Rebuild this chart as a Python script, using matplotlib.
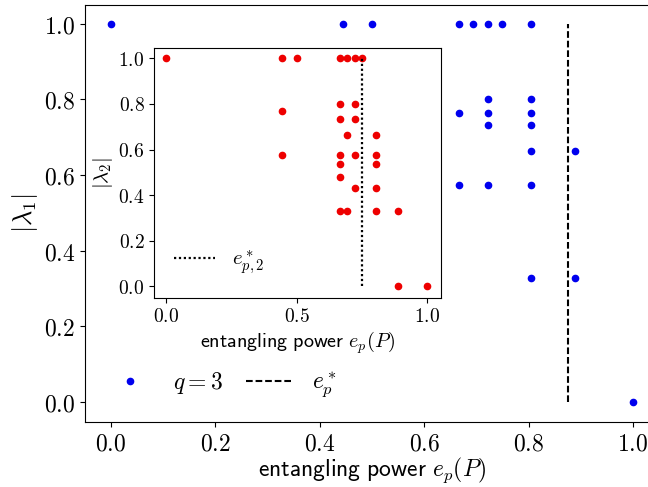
import matplotlib
matplotlib.use('Agg')
from matplotlib import pyplot as plt
from matplotlib.ticker import FormatStrFormatter, MultipleLocator

plt.rcParams['mathtext.fontset'] = 'cm'
plt.rcParams['font.family'] = ['DejaVu Sans']

# main panel: q = 3, |lambda_1| against entangling power
ep_main = [0.0, 4/9, 0.5, 2/3, 2/3, 2/3, 25/36, 13/18, 13/18, 13/18, 13/18, 13/18,
           0.75, 29/36, 29/36, 29/36, 29/36, 29/36, 29/36, 29/36, 8/9, 8/9, 1.0]
lam1 = [1.0, 1.0, 1.0, 1.0, 0.765, 0.574, 1.0, 1.0, 0.802, 0.765, 0.733, 0.574,
        1.0, 1.0, 0.802, 0.765, 0.733, 0.663, 0.574, 0.329, 0.663, 0.329, 0.0]
ep_star = 0.875

# inset: |lambda_2| against entangling power
ep_inset = [0.0, 4/9, 4/9, 4/9, 0.5,
            2/3, 2/3, 2/3, 2/3, 2/3, 2/3, 2/3,
            25/36, 25/36, 25/36,
            13/18, 13/18, 13/18, 13/18, 13/18,
            0.75,
            29/36, 29/36, 29/36, 29/36, 29/36,
            8/9, 8/9, 1.0]
lam2 = [1.0, 1.0, 0.767, 0.575, 1.0,
        1.0, 0.802, 0.733, 0.575, 0.537, 0.479, 0.329,
        1.0, 0.664, 0.329,
        1.0, 0.802, 0.733, 0.575, 0.432,
        1.0,
        0.664, 0.575, 0.537, 0.432, 0.329,
        0.329, 0.0, 0.0]
ep_star_2 = 0.75

xlabel_txt = r'$\mathsf{entangling\ power}\ e_p(P)$'

fig = plt.figure(figsize=(6.48, 4.87), dpi=100)
ax = fig.add_axes([0.131, 0.1335, 0.886, 0.8565])

ax.plot(ep_main, lam1, 'o', color='#0000ee', markersize=4.5, label='$q=3$')
ax.vlines(ep_star, 0, 1, colors='k', linestyles=(0, (3.2, 1.4)), linewidth=1.5,
          label='$e_p^*$')
ax.set_xlim(-0.05, 1.05)
ax.set_ylim(-0.053, 1.05)
ax.xaxis.set_major_locator(MultipleLocator(0.2))
ax.yaxis.set_major_locator(MultipleLocator(0.2))
ax.xaxis.set_major_formatter(FormatStrFormatter(r'$%.1f$'))
ax.yaxis.set_major_formatter(FormatStrFormatter(r'$%.1f$'))
ax.tick_params(labelsize=17)
ax.set_xlabel(xlabel_txt, fontsize=17, labelpad=0)
ax.set_ylabel(r'$|\lambda_1|$', fontsize=19, labelpad=3)
ax.legend(loc='lower left', bbox_to_anchor=(0.021, 0.029), borderaxespad=0,
          ncol=2, frameon=False, fontsize=17, columnspacing=1.0)

# inset
axi = fig.add_axes([0.238, 0.389, 0.443, 0.513])
axi.plot(ep_inset, lam2, 'o', color='#ee0000', markersize=4.5)
axi.vlines(ep_star_2, 0, 1, colors='k', linestyles=(0, (1, 1.2)), linewidth=1.6,
           label='$e^*_{p,2}$')
axi.set_xlim(-0.045, 1.054)
axi.set_ylim(-0.05, 1.047)
axi.xaxis.set_major_locator(MultipleLocator(0.5))
axi.yaxis.set_major_locator(MultipleLocator(0.2))
axi.xaxis.set_major_formatter(FormatStrFormatter(r'$%.1f$'))
axi.yaxis.set_major_formatter(FormatStrFormatter(r'$%.1f$'))
axi.tick_params(labelsize=14)
axi.set_xlabel(xlabel_txt, fontsize=14.5, labelpad=2)
axi.set_ylabel(r'$|\lambda_2|$', fontsize=15, labelpad=2)
axi.legend(loc='lower left', bbox_to_anchor=(0.039, 0.054), borderaxespad=0,
           frameon=False, fontsize=15)

fig.savefig('out.png', dpi=100)
